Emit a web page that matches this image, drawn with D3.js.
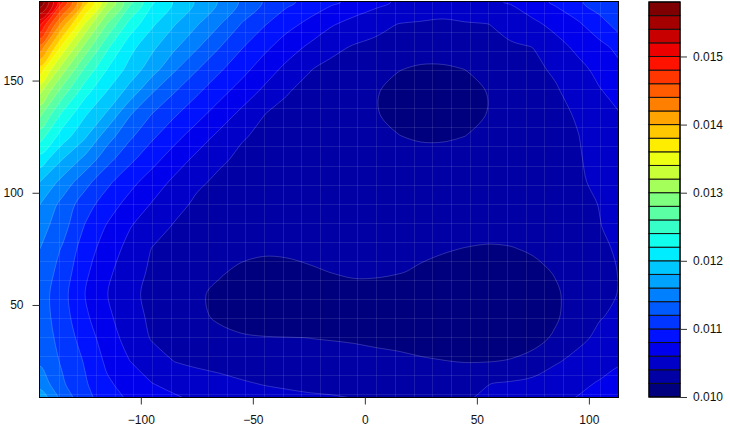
<!DOCTYPE html>
<html>
<head>
<meta charset="utf-8">
<script src="https://cdn.jsdelivr.net/npm/d3@7"></script>
<style>
  html, body { margin: 0; padding: 0; background: #ffffff; }
  svg { display: block; font-family: "Liberation Sans", Arial, Helvetica, sans-serif; }
</style>
</head>
<body>
<svg id="chart" width="730" height="429"></svg>
<script>
// Surface sampled on a regular grid: column positions, row positions (top row first)
const xGrid = [-145, -135, -125, -115, -105, -95, -85, -75, -65, -55, -45, -35, -25, -15, -5,
               5, 15, 25, 35, 45, 55, 65, 75, 85, 95, 105, 115];
const yGrid = [185, 175, 165, 155, 145, 135, 125, 115, 105, 95, 85, 75, 65, 55, 45, 35, 25, 15, 5];

// Surface values, in units of 1e-3, one array per row of yGrid
const zUnit = 1e-3;
const zRows = [
  [15.78, 14.82, 13.90, 13.22, 12.66, 12.23, 11.98, 11.776, 11.584, 11.37, 11.186, 11.05, 10.93, 10.836, 10.75, 10.656, 10.57, 10.52, 10.48, 10.526, 10.566, 10.616, 10.72, 10.832, 10.968, 11.10, 11.22],
  [15.04, 14.10, 13.38, 12.78, 12.326, 12.034, 11.81, 11.616, 11.412, 11.186, 11.016, 10.866, 10.75, 10.62, 10.524, 10.458, 10.394, 10.38, 10.374, 10.384, 10.396, 10.464, 10.554, 10.654, 10.764, 10.932, 11.09],
  [14.34, 13.54, 12.94, 12.44, 12.072, 11.846, 11.636, 11.426, 11.21, 11.016, 10.852, 10.70, 10.57, 10.448, 10.386, 10.35, 10.304, 10.28, 10.28, 10.30, 10.344, 10.376, 10.402, 10.528, 10.642, 10.744, 10.88],
  [13.71, 13.092, 12.566, 12.196, 11.93, 11.69, 11.426, 11.212, 11.03, 10.868, 10.70, 10.55, 10.41, 10.35, 10.30, 10.256, 10.206, 10.178, 10.178, 10.202, 10.254, 10.306, 10.36, 10.426, 10.544, 10.654, 10.75],
  [13.24, 12.70, 12.276, 11.99, 11.72, 11.416, 11.208, 11.03, 10.868, 10.71, 10.56, 10.41, 10.354, 10.302, 10.252, 10.21, 10.152, 10.13, 10.13, 10.152, 10.205, 10.26, 10.318, 10.378, 10.472, 10.588, 10.67],
  [12.84, 12.36, 12.028, 11.772, 11.42, 11.196, 11.024, 10.868, 10.706, 10.554, 10.402, 10.36, 10.32, 10.28, 10.24, 10.21, 10.152, 10.13, 10.13, 10.152, 10.205, 10.252, 10.304, 10.356, 10.416, 10.514, 10.606],
  [12.48, 12.10, 11.828, 11.486, 11.236, 11.032, 10.862, 10.70, 10.554, 10.412, 10.37, 10.34, 10.32, 10.30, 10.27, 10.24, 10.206, 10.178, 10.178, 10.202, 10.25, 10.29, 10.33, 10.364, 10.394, 10.478, 10.55],
  [12.12, 11.804, 11.55, 11.27, 11.05, 10.87, 10.70, 10.555, 10.426, 10.37, 10.34, 10.32, 10.304, 10.29, 10.28, 10.28, 10.276, 10.27, 10.27, 10.276, 10.284, 10.30, 10.32, 10.35, 10.386, 10.45, 10.51],
  [11.804, 11.54, 11.276, 11.048, 10.866, 10.708, 10.562, 10.43, 10.37, 10.34, 10.32, 10.304, 10.294, 10.284, 10.28, 10.28, 10.28, 10.276, 10.276, 10.28, 10.29, 10.304, 10.324, 10.35, 10.38, 10.43, 10.49],
  [11.604, 11.338, 11.094, 10.898, 10.734, 10.588, 10.458, 10.37, 10.34, 10.32, 10.304, 10.296, 10.29, 10.284, 10.28, 10.28, 10.28, 10.276, 10.276, 10.276, 10.28, 10.29, 10.304, 10.324, 10.356, 10.406, 10.47],
  [11.48, 11.28, 10.988, 10.782, 10.612, 10.48, 10.384, 10.344, 10.316, 10.29, 10.276, 10.272, 10.272, 10.274, 10.276, 10.276, 10.274, 10.266, 10.26, 10.254, 10.252, 10.26, 10.28, 10.31, 10.35, 10.396, 10.45],
  [11.40, 11.18, 10.90, 10.704, 10.538, 10.394, 10.33, 10.29, 10.26, 10.236, 10.22, 10.224, 10.236, 10.244, 10.25, 10.248, 10.24, 10.224, 10.21, 10.196, 10.186, 10.192, 10.216, 10.26, 10.31, 10.37, 10.43],
  [11.34, 11.12, 10.842, 10.646, 10.476, 10.372, 10.32, 10.268, 10.216, 10.176, 10.16, 10.164, 10.184, 10.204, 10.22, 10.22, 10.208, 10.186, 10.164, 10.144, 10.136, 10.14, 10.164, 10.21, 10.27, 10.35, 10.416],
  [11.30, 11.07, 10.802, 10.604, 10.444, 10.354, 10.288, 10.222, 10.17, 10.136, 10.12, 10.12, 10.13, 10.144, 10.156, 10.152, 10.14, 10.124, 10.11, 10.10, 10.096, 10.10, 10.12, 10.18, 10.26, 10.352, 10.416],
  [11.30, 11.09, 10.838, 10.642, 10.474, 10.364, 10.298, 10.232, 10.176, 10.136, 10.116, 10.12, 10.13, 10.14, 10.144, 10.14, 10.13, 10.114, 10.10, 10.094, 10.092, 10.10, 10.12, 10.176, 10.29, 10.39, 10.44],
  [11.32, 11.13, 10.91, 10.698, 10.524, 10.386, 10.33, 10.28, 10.244, 10.22, 10.21, 10.206, 10.202, 10.19, 10.176, 10.16, 10.144, 10.124, 10.11, 10.10, 10.10, 10.11, 10.15, 10.224, 10.36, 10.44, 10.50],
  [11.362, 11.172, 10.982, 10.758, 10.602, 10.494, 10.396, 10.366, 10.344, 10.324, 10.31, 10.30, 10.30, 10.30, 10.29, 10.26, 10.244, 10.22, 10.204, 10.19, 10.192, 10.21, 10.25, 10.38, 10.448, 10.512, 10.576],
  [11.528, 11.226, 11.026, 10.832, 10.712, 10.604, 10.54, 10.476, 10.448, 10.416, 10.392, 10.38, 10.37, 10.36, 10.35, 10.344, 10.332, 10.324, 10.32, 10.344, 10.396, 10.42, 10.46, 10.496, 10.552, 10.62, 10.68],
  [11.804, 11.366, 11.076, 10.90, 10.784, 10.728, 10.672, 10.616, 10.58, 10.53, 10.49, 10.46, 10.444, 10.44, 10.426, 10.416, 10.41, 10.404, 10.402, 10.41, 10.44, 10.48, 10.524, 10.58, 10.64, 10.72, 10.79]
];

// Contour levels (band edges) and the key's labelled ticks
const levels = [0.0100, 0.0102, 0.0104, 0.0106, 0.0108, 0.0110, 0.0112, 0.0114, 0.0116, 0.0118,
                0.0120, 0.0122, 0.0124, 0.0126, 0.0128, 0.0130, 0.0132, 0.0134, 0.0136, 0.0138,
                0.0140, 0.0142, 0.0144, 0.0146, 0.0148, 0.0150, 0.0152, 0.0154, 0.0156, 0.0158];
const keyTicks = [0.010, 0.011, 0.012, 0.013, 0.014, 0.015];
const xTicks = [-100, -50, 0, 50, 100];
const yTicks = [50, 100, 150];

// Plotted extent of the surface
const xExtent = [-145, 113];
const yExtent = [9, 185];

// Jet-like palette anchors, spread evenly over the bands
const jetAnchors = ["#00007F", "#0000FF", "#007FFF", "#00FFFF", "#7FFF7F",
                    "#FFFF00", "#FF7F00", "#FF0000", "#7F0000"];

const svg = d3.select("#chart");
const plot = { left: 40, right: 618, top: 2, bottom: 397 };
const key = { left: 649, right: 680, top: 2, bottom: 397 };

const x = d3.scaleLinear().domain(xExtent).range([plot.left, plot.right]);
const y = d3.scaleLinear().domain(yExtent).range([plot.bottom, plot.top]);

const nBands = levels.length - 1;
const ramp = d3.scaleLinear()
  .domain(jetAnchors.map((_, i) => i / (jetAnchors.length - 1)))
  .range(jetAnchors)
  .interpolate(d3.interpolateRgb);
const bandColor = d3.range(nBands).map(i => ramp(i / (nBands - 1)));

// Flatten the rows for d3.contours (row-major, top row first)
const nx = xGrid.length, ny = yGrid.length;
const values = [];
zRows.forEach(row => row.forEach(v => values.push(v * zUnit)));

const bandLows = levels.slice(0, nBands);
const contours = d3.contours().size([nx, ny]).thresholds(bandLows)(values);

// Grid space: sample (i, j) sits at (i + 0.5, j + 0.5)
const dxGrid = xGrid[1] - xGrid[0];
const dyGrid = yGrid[0] - yGrid[1];
const gx2px = gx => x(xGrid[0] + (gx - 0.5) * dxGrid);
const gy2px = gy => y(yGrid[0] - (gy - 0.5) * dyGrid);

// Each ring is traced with a smooth closed curve through its vertices
const ringLine = d3.line().curve(d3.curveCatmullRomClosed.alpha(0.5));
function contourPath(mp) {
  let d = "";
  for (const polygon of mp.coordinates) {
    for (const ring of polygon) {
      const pts = ring.slice(0, -1).map(([gx, gy]) => [gx2px(gx), gy2px(gy)]);
      if (pts.length > 2) d += ringLine(pts);
    }
  }
  return d;
}

svg.append("defs").append("clipPath").attr("id", "plot-clip")
  .append("rect")
  .attr("x", plot.left).attr("y", plot.top)
  .attr("width", plot.right - plot.left).attr("height", plot.bottom - plot.top);

const field = svg.append("g").attr("clip-path", "url(#plot-clip)");

// Filled bands, lowest first
field.selectAll("path.band")
  .data(contours)
  .join("path")
  .attr("class", "band")
  .attr("d", contourPath)
  .attr("fill", (d, i) => bandColor[i])
  .attr("stroke", (d, i) => bandColor[i])
  .attr("stroke-width", 0.3);

// Faint seams where the filled cells meet
const seams = field.append("g")
  .attr("stroke", "#ffffff")
  .attr("stroke-opacity", 0.1)
  .attr("stroke-width", 1);
for (let sx = 133.3 - 18.68 * 5; sx < plot.right; sx += 18.68) {
  if (sx <= plot.left + 1) continue;
  seams.append("line").attr("x1", Math.round(sx) + 0.5).attr("x2", Math.round(sx) + 0.5)
    .attr("y1", plot.top).attr("y2", plot.bottom);
}
for (let sy = 108.3 - 19.07 * 5; sy < plot.bottom; sy += 19.07) {
  if (sy <= plot.top + 1) continue;
  seams.append("line").attr("y1", Math.round(sy) + 0.5).attr("y2", Math.round(sy) + 0.5)
    .attr("x1", plot.left).attr("x2", plot.right);
}

// Light edges between neighbouring bands
field.selectAll("path.edge")
  .data(contours.slice(1))
  .join("path")
  .attr("class", "edge")
  .attr("d", contourPath)
  .attr("fill", "none")
  .attr("stroke", "#ffffff")
  .attr("stroke-opacity", 0.3)
  .attr("stroke-width", 0.6);

// Frame
svg.append("rect")
  .attr("x", plot.left - 0.5).attr("y", plot.top - 0.5)
  .attr("width", plot.right - plot.left + 1).attr("height", plot.bottom - plot.top + 1)
  .attr("fill", "none").attr("stroke", "#000").attr("stroke-width", 1);

// Axes
const xAxis = svg.append("g")
  .attr("transform", `translate(0,${plot.bottom + 0.5})`)
  .call(d3.axisBottom(x).tickValues(xTicks).tickSize(7).tickPadding(11));
const yAxis = svg.append("g")
  .attr("transform", `translate(${plot.left - 0.5},0)`)
  .call(d3.axisLeft(y).tickValues(yTicks).tickSize(7).tickPadding(9));
[xAxis, yAxis].forEach(g => {
  g.select(".domain").remove();
  g.selectAll(".tick line").attr("stroke", "#333");
  g.selectAll(".tick text").attr("font-size", 12).attr("fill", "#111")
    .attr("font-family", "\"Liberation Sans\", Arial, Helvetica, sans-serif");
});

// Colour key
const k = d3.scaleLinear().domain([levels[0], levels[levels.length - 1]]).range([key.bottom, key.top]);
svg.append("g").selectAll("rect")
  .data(d3.range(nBands))
  .join("rect")
  .attr("x", key.left)
  .attr("width", key.right - key.left)
  .attr("y", i => k(levels[i + 1]))
  .attr("height", i => k(levels[i]) - k(levels[i + 1]))
  .attr("fill", i => bandColor[i])
  .attr("stroke", "#111")
  .attr("stroke-width", 1);
svg.append("rect")
  .attr("x", key.left).attr("y", key.top)
  .attr("width", key.right - key.left).attr("height", key.bottom - key.top)
  .attr("fill", "none").attr("stroke", "#000").attr("stroke-width", 1.2);

const keyAxis = svg.append("g")
  .attr("transform", `translate(${key.right},0)`)
  .call(d3.axisRight(k).tickValues(keyTicks).tickSize(7).tickPadding(6).tickFormat(d3.format(".3f")));
keyAxis.select(".domain").remove();
keyAxis.selectAll(".tick line").attr("stroke", "#333");
keyAxis.selectAll(".tick text").attr("font-size", 12).attr("fill", "#111")
  .attr("font-family", "\"Liberation Sans\", Arial, Helvetica, sans-serif");
</script>
</body>
</html>
